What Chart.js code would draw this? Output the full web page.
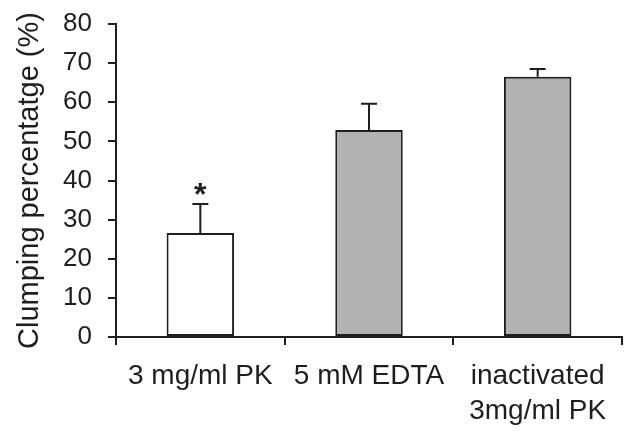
<!DOCTYPE html>
<html>
<head>
<meta charset="utf-8">
<script src="https://cdn.jsdelivr.net/npm/chart.js@4.4.1/dist/chart.umd.min.js"></script>
<style>
  html, body { margin: 0; padding: 0; background: #ffffff; }
  #wrap { width: 631px; height: 431px; }
</style>
</head>
<body>
<div id="wrap"><canvas id="c" width="631" height="431"></canvas></div>
<script>
// ---- data ----
const categories = ['3 mg/ml PK', '5 mM EDTA', ['inactivated', '3mg/ml PK']];
const clumpingMeans = [26.6, 52.9, 66.5];
const clumpingErrors = [7.4, 6.7, 2.0];
const significanceMarks = ['*', '', ''];
const barColors = ['#ffffff', '#b2b2b2', '#b2b2b2'];
const yTickMin = 0;
const yTickMax = 80;
const yTickStep = 10;

const ink = '#1e1e1e';
const fontFamily = '"Liberation Sans", Arial, Helvetica, sans-serif';

const errorBarPlugin = {
  id: 'errorBars',
  afterDatasetsDraw(chart) {
    const ctx = chart.ctx;
    const meta = chart.getDatasetMeta(0);
    const yScale = chart.scales.y;
    ctx.save();
    ctx.strokeStyle = ink;
    ctx.lineWidth = 2;
    meta.data.forEach((bar, i) => {
      const x = bar.x;
      const yTop = yScale.getPixelForValue(clumpingMeans[i]);
      const yErr = yScale.getPixelForValue(clumpingMeans[i] + clumpingErrors[i]);
      ctx.beginPath();
      ctx.moveTo(x, yTop);
      ctx.lineTo(x, yErr);
      ctx.moveTo(x - 8, yErr);
      ctx.lineTo(x + 8, yErr);
      ctx.stroke();
      if (significanceMarks[i]) {
        ctx.fillStyle = ink;
        ctx.font = 'bold 32px ' + fontFamily;
        ctx.textAlign = 'center';
        ctx.textBaseline = 'alphabetic';
        ctx.fillText(significanceMarks[i], x, yErr + 1);
      }
    });
    ctx.restore();
  }
};

new Chart(document.getElementById('c'), {
  type: 'bar',
  data: {
    labels: categories,
    datasets: [{
      data: clumpingMeans,
      backgroundColor: barColors,
      borderColor: ink,
      borderWidth: 2,
      borderSkipped: false,
      categoryPercentage: 1.0,
      barPercentage: 0.4
    }]
  },
  options: {
    responsive: false,
    animation: false,
    devicePixelRatio: 1,
    layout: { padding: { top: 24, right: 9, bottom: 0, left: 0 } },
    plugins: {
      legend: { display: false },
      tooltip: { enabled: false }
    },
    scales: {
      x: {
        offset: true,
        grid: {
          display: true,
          offset: true,
          drawOnChartArea: false,
          drawTicks: true,
          tickLength: 8,
          color: ink,
          lineWidth: 2
        },
        border: { display: true, color: ink, width: 2 },
        ticks: {
          color: ink,
          padding: 14,
          maxRotation: 0,
          autoSkip: false,
          font: { family: fontFamily, size: 28, lineHeight: 1.25 }
        },
        afterFit(s) { s.height = 94; }
      },
      y: {
        min: yTickMin,
        max: yTickMax,
        grid: {
          display: true,
          drawOnChartArea: false,
          drawTicks: true,
          tickLength: 8,
          color: ink,
          lineWidth: 2
        },
        border: { display: true, color: ink, width: 2 },
        ticks: {
          stepSize: yTickStep,
          color: ink,
          padding: 16,
          font: { family: fontFamily, size: 26 }
        },
        title: {
          display: true,
          text: 'Clumping percentatge (%)',
          color: ink,
          padding: { top: 13, bottom: 0 },
          font: { family: fontFamily, size: 29, lineHeight: 1.2 }
        },
        afterFit(s) { s.width = 116; s.paddingTop = 0; s.paddingBottom = 0; }
      }
    }
  },
  plugins: [errorBarPlugin]
});
</script>
</body>
</html>
